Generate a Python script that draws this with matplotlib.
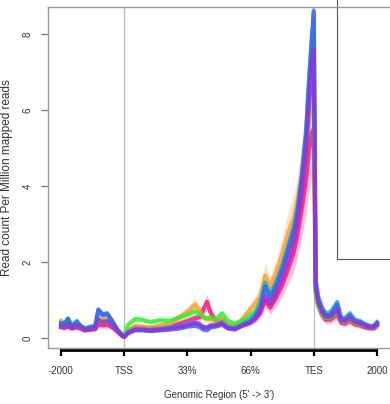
import matplotlib
matplotlib.use("Agg")
import matplotlib.pyplot as plt
from matplotlib.patches import Rectangle
import numpy as np

plt.rcParams['font.family'] = ['Liberation Sans', 'DejaVu Sans']

# x positions in tick units (0 = -2000, 1 = TSS, 2 = 33%, 3 = 66%, 4 = TES, 5 = 2000)
pos = [0.00, 0.06, 0.11, 0.17, 0.25, 0.30, 0.38, 0.46, 0.54, 0.59, 0.66, 0.73, 0.81, 0.90, 0.97,
       1.00, 1.06, 1.17, 1.28, 1.41, 1.57, 1.72, 1.88, 2.01, 2.12, 2.20, 2.25, 2.31, 2.37, 2.45,
       2.55, 2.64, 2.75, 2.86, 2.99, 3.07, 3.15, 3.23, 3.31, 3.40, 3.50, 3.59, 3.69, 3.75, 3.81,
       3.88, 3.92, 3.97, 4.00, 4.03, 4.07, 4.13, 4.19, 4.26, 4.32, 4.37, 4.43, 4.49, 4.57, 4.65,
       4.73, 4.81, 4.89, 4.95, 5.00]

tick_labels = ["-2000", "TSS", "33%", "66%", "TES", "2000"]

pink = [0.28, 0.27, 0.30, 0.25, 0.28, 0.25, 0.20, 0.22, 0.23, 0.35, 0.33, 0.35, 0.28, 0.15, 0.05,
        0.03, 0.18, 0.28, 0.27, 0.25, 0.27, 0.30, 0.38, 0.45, 0.52, 0.55, 0.75, 0.95, 0.65, 0.45,
        0.45, 0.30, 0.27, 0.35, 0.42, 0.50, 0.65, 1.00, 0.80, 1.05, 1.40, 1.80, 2.30, 2.80, 3.40,
        4.20, 4.90, 5.40, 5.50, 1.20, 0.85, 0.60, 0.48, 0.48, 0.55, 0.62, 0.40, 0.38, 0.45, 0.36,
        0.33, 0.28, 0.25, 0.25, 0.32]

orange = [0.45, 0.38, 0.42, 0.32, 0.38, 0.30, 0.24, 0.27, 0.28, 0.55, 0.48, 0.50, 0.38, 0.20, 0.08,
          0.05, 0.20, 0.32, 0.30, 0.28, 0.33, 0.38, 0.55, 0.70, 0.88, 0.70, 0.55, 0.50, 0.50, 0.45,
          0.50, 0.35, 0.32, 0.48, 0.75, 0.90, 1.10, 1.65, 1.35, 1.70, 2.20, 2.75, 3.20, 3.70, 4.30,
          5.20, 5.80, 6.30, 6.40, 1.30, 0.90, 0.65, 0.55, 0.55, 0.65, 0.75, 0.45, 0.42, 0.50, 0.40,
          0.38, 0.32, 0.28, 0.28, 0.36]

green = [0.32, 0.30, 0.38, 0.28, 0.33, 0.28, 0.22, 0.25, 0.27, 0.45, 0.42, 0.44, 0.35, 0.20, 0.10,
         0.08, 0.35, 0.50, 0.48, 0.42, 0.47, 0.45, 0.55, 0.62, 0.70, 0.62, 0.55, 0.52, 0.55, 0.50,
         0.65, 0.45, 0.38, 0.45, 0.60, 0.70, 0.95, 1.40, 1.10, 1.45, 1.85, 2.35, 2.85, 3.40, 4.10,
         5.10, 6.10, 6.90, 7.20, 1.20, 0.85, 0.62, 0.52, 0.52, 0.60, 0.70, 0.45, 0.42, 0.50, 0.40,
         0.36, 0.32, 0.28, 0.28, 0.35]

cyan = [0.40, 0.40, 0.52, 0.32, 0.45, 0.34, 0.25, 0.30, 0.32, 0.72, 0.60, 0.62, 0.44, 0.20, 0.07,
        0.04, 0.15, 0.25, 0.24, 0.22, 0.25, 0.28, 0.32, 0.38, 0.42, 0.36, 0.30, 0.28, 0.33, 0.35,
        0.42, 0.30, 0.27, 0.36, 0.50, 0.62, 0.88, 1.45, 1.15, 1.45, 1.90, 2.40, 2.95, 3.50, 4.30,
        5.50, 6.70, 7.90, 8.40, 1.55, 1.10, 0.80, 0.65, 0.68, 0.82, 0.95, 0.55, 0.52, 0.65, 0.48,
        0.45, 0.37, 0.32, 0.32, 0.42]

blue = [0.38, 0.36, 0.50, 0.30, 0.42, 0.33, 0.24, 0.28, 0.30, 0.75, 0.62, 0.65, 0.45, 0.20, 0.06,
        0.03, 0.12, 0.20, 0.20, 0.18, 0.20, 0.22, 0.25, 0.30, 0.32, 0.28, 0.22, 0.20, 0.28, 0.30,
        0.35, 0.25, 0.22, 0.32, 0.42, 0.55, 0.80, 1.35, 1.05, 1.35, 1.80, 2.30, 2.85, 3.40, 4.20,
        5.40, 6.60, 7.90, 8.60, 1.40, 1.00, 0.75, 0.60, 0.60, 0.75, 0.88, 0.50, 0.48, 0.60, 0.45,
        0.42, 0.35, 0.30, 0.30, 0.40]

purple = [0.30, 0.28, 0.35, 0.26, 0.32, 0.27, 0.20, 0.23, 0.25, 0.48, 0.42, 0.45, 0.33, 0.17, 0.05,
          0.03, 0.14, 0.22, 0.22, 0.20, 0.22, 0.25, 0.30, 0.34, 0.40, 0.34, 0.28, 0.28, 0.33, 0.33,
          0.38, 0.26, 0.24, 0.32, 0.40, 0.50, 0.70, 1.10, 0.90, 1.20, 1.60, 2.05, 2.60, 3.15, 3.95,
          5.00, 6.10, 7.20, 7.60, 1.35, 0.95, 0.68, 0.55, 0.55, 0.65, 0.75, 0.46, 0.44, 0.52, 0.42,
          0.38, 0.32, 0.28, 0.28, 0.36]

series = [pink, orange, green, cyan, blue, purple]
series_se = [0.22, 0.20, 0.14, 0.12, 0.12, 0.16]   # relative standard error per sample
line_colors = ["#FF1077", "#FF9A30", "#30EE30", "#1FA8D8", "#3A64E8", "#9A2ED8"]
band_colors = ["#FF80B8", "#FFC890", "#80FF80", "#80D8F0", "#90A8F8", "#C888F0"]

W, H = 390, 404
fig = plt.figure(figsize=(W / 100, H / 100), dpi=100)
# axes box: left 48px, top 7px, bottom 348px, right beyond the cropped edge
ax = fig.add_axes([48 / W, (H - 348) / H, (400 - 48) / W, (348 - 7) / H])
ax.set_xlim(-0.206, 5.364)
ax.set_ylim(-0.263, 8.71)

x = np.array(pos)
for vals, se, lc, bc in zip(series, series_se, line_colors, band_colors):
    v = np.array(vals)
    ax.fill_between(x, v * (1 - se), v * (1 + se), color=bc, alpha=0.5, lw=0)
for vals, lc in zip(series, line_colors):
    ax.plot(x, vals, color=lc, lw=3.0, alpha=0.8, solid_joinstyle='round')

for xv in (1, 4):
    ax.axvline(xv, color="#BBBBBB", lw=0.9, zorder=0)

for s in ax.spines.values():
    s.set_color("#999999")
    s.set_linewidth(1.0)

# R-style x axis line
ax.plot([0, 5], [-0.006, -0.006], transform=ax.get_xaxis_transform(), color="black",
        lw=2.0, clip_on=False, solid_capstyle='butt')
ax.set_xticks(range(6))
ax.set_xticklabels(tick_labels)
ax.tick_params(axis='x', length=6, width=1.6, color='black', pad=7, labelsize=7, labelcolor='#333333')

ax.set_yticks([0, 2, 4, 6, 8])
ax.set_yticklabels(["0", "2", "4", "6", "8"], rotation=90, va='center')
ax.tick_params(axis='y', length=5, width=0.9, color='#777777', pad=6, labelsize=7, labelcolor='#333333')

ax.set_ylabel("Read count Per Million mapped reads", fontsize=8.5, color='#333333', labelpad=7)
fig.text(219 / W, 1 - 395 / H, "Genomic Region (5' -> 3')", ha='center', va='center',
         fontsize=7, color='#333333')

# legend frame (contents empty in the reference)
ax.add_patch(Rectangle(((337 - 48) / 352, (348 - 259) / 341), 0.3, 1.0,
                       transform=ax.transAxes, fill=False, ec="#555555", lw=0.8, clip_on=False))

fig.savefig("out.png", dpi=100)
